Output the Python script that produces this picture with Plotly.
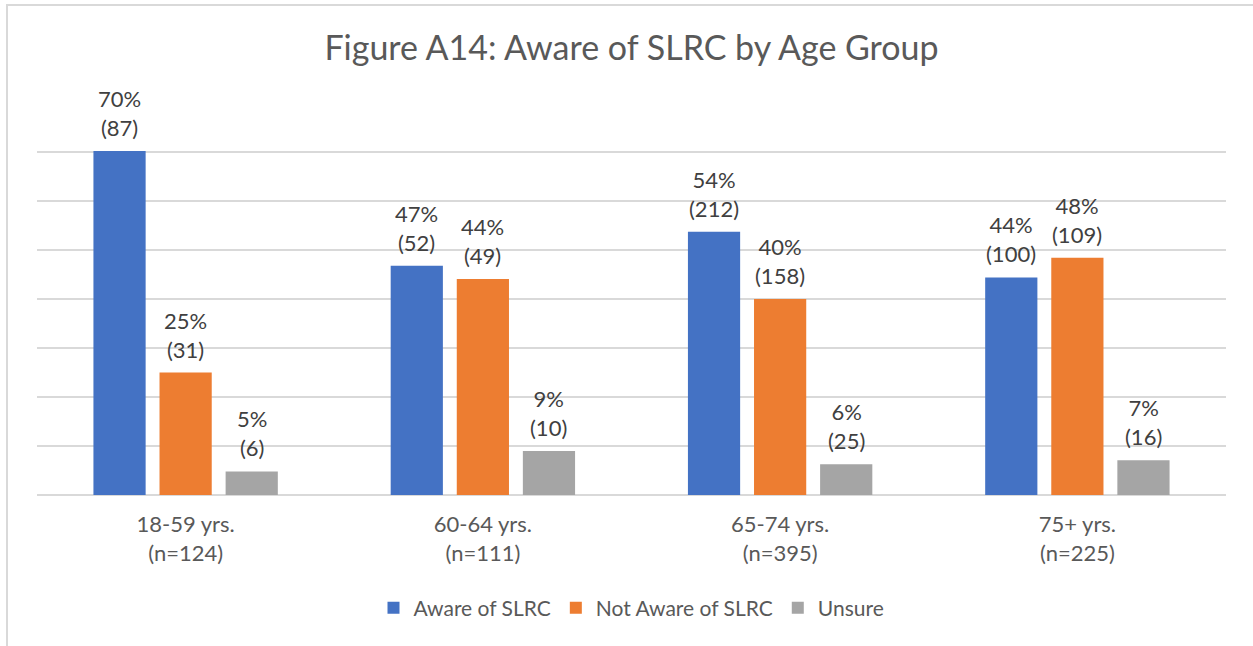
import plotly.graph_objects as go

categories = ["18-59 yrs.<br>(n=124)", "60-64 yrs.<br>(n=111)", "65-74 yrs.<br>(n=395)", "75+ yrs.<br>(n=225)"]
series_names = ["Aware of SLRC", "Not Aware of SLRC", "Unsure"]
aware_pct = [70.2, 46.8, 53.7, 44.4]
not_aware_pct = [25.0, 44.1, 40.0, 48.4]
unsure_pct = [4.8, 9.0, 6.3, 7.1]
aware_n = [87, 52, 212, 100]
not_aware_n = [31, 49, 158, 109]
unsure_n = [6, 10, 25, 16]
aware_lbl = ["70%", "47%", "54%", "44%"]
not_aware_lbl = ["25%", "44%", "40%", "48%"]
unsure_lbl = ["5%", "9%", "6%", "7%"]

colors = ["#4472C4", "#ED7D31", "#A5A5A5"]
FONT = "Lato"

W, H = 1253, 646
ML, MR, MT, MB = 37, 27, 103, 151
plot_w = W - ML - MR
group_px = plot_w / len(categories)
bargap = 0.333
slot_px = group_px * (1 - bargap) / 3

fig = go.Figure()
all_vals = [aware_pct, not_aware_pct, unsure_pct]
all_n = [aware_n, not_aware_n, unsure_n]
all_lbl = [aware_lbl, not_aware_lbl, unsure_lbl]
for i, name in enumerate(series_names):
    fig.add_trace(go.Bar(
        x=categories, y=all_vals[i], name=name,
        marker=dict(color=colors[i], line=dict(width=0)),
    ))
    for j, c in enumerate(categories):
        fig.add_annotation(
            x=c, y=all_vals[i][j], xref="x", yref="y",
            text=f"{all_lbl[i][j]}<br>({all_n[i][j]})",
            showarrow=False, yanchor="bottom", xanchor="center",
            xshift=(i - 1) * slot_px, yshift=8,
            font=dict(family=FONT, size=22, color="#404040"),
        )

def px2paper_x(px):
    return (px - ML) / plot_w
def px2paper_y(py):
    return (H - MB - py) / (H - MT - MB)

# outer chart border
fig.add_shape(type="rect", xref="paper", yref="paper",
              x0=px2paper_x(7), x1=px2paper_x(1270), y0=px2paper_y(660), y1=px2paper_y(5),
              line=dict(color="#D9D9D9", width=2), fillcolor="rgba(0,0,0,0)", layer="below")

fig.update_layout(
    width=W, height=H,
    margin=dict(l=ML, r=MR, t=MT, b=MB, autoexpand=False),
    paper_bgcolor="white", plot_bgcolor="white",
    barmode="group", bargap=bargap, bargroupgap=0.21,
    title=dict(text="Figure A14: Aware of SLRC by Age Group", x=0.5, xref="paper",
               y=1 - 48 / H, yref="container", yanchor="middle", xanchor="center",
               font=dict(family=FONT, size=34, color="#595959")),
    font=dict(family=FONT, size=22, color="#595959"),
    legend=dict(orientation="h", x=0.5, xanchor="center", y=px2paper_y(608), yanchor="middle",
                font=dict(family=FONT, size=21, color="#595959"), traceorder="normal",
                itemwidth=30),
    showlegend=True,
)
fig.update_xaxes(showgrid=False, showline=False, ticks="", ticklabelstandoff=14,
                 tickfont=dict(family=FONT, size=22, color="#595959"))
fig.update_yaxes(range=[0, 80], dtick=10, showticklabels=False, showgrid=True,
                 gridcolor="#D9D9D9", gridwidth=1.5, zeroline=True, zerolinecolor="#D9D9D9",
                 zerolinewidth=1.5, showline=False)

fig.write_html("out.html", config={"displayModeBar": False},
               post_script="document.body.style.margin='0';document.body.style.overflow='hidden';")
